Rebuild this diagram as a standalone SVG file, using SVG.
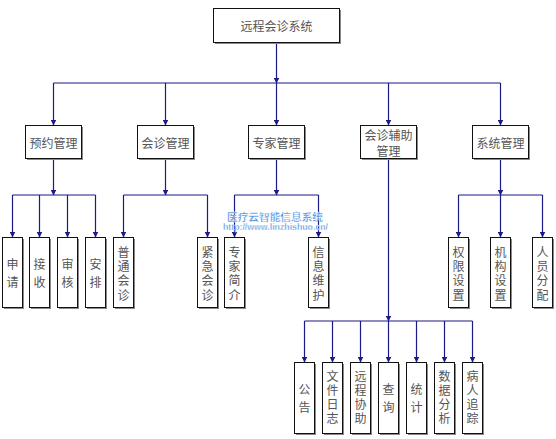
<svg xmlns="http://www.w3.org/2000/svg" width="556" height="439" viewBox="0 0 556 439">
<defs>
<marker id="arr" markerUnits="userSpaceOnUse" markerWidth="6" markerHeight="6" refX="5.5" refY="3" orient="auto">
<path d="M0,0 L6,3 L0,6 z" fill="#1a1a88"/>
</marker>
</defs>
<style>
.box{fill:#fff;stroke:#111;stroke-width:1}
.sh{fill:#8a8a8a}
.t{font-family:"Noto Sans CJK SC","Liberation Sans",sans-serif;font-size:12px;fill:#555;text-anchor:middle;dominant-baseline:central}
.c{fill:none;stroke:#1a1a88;stroke-width:1.2}
.a{marker-end:url(#arr)}
.wm{font-family:"Liberation Sans","Noto Sans CJK SC",sans-serif;font-weight:bold;fill:#4a90e2;text-anchor:middle;stroke:#fff;stroke-width:0.3}
</style>
<rect width="556" height="439" fill="#fff"/>

<g id="connectors">
<path class="c a" d="M276.5,42 V83"/>
<path class="c" d="M53.5,83 H500.5"/>
<path class="c a" d="M53.5,83 V125"/>
<path class="c a" d="M165.5,83 V125"/>
<path class="c a" d="M276.5,83 V125"/>
<path class="c a" d="M388.5,83 V125"/>
<path class="c a" d="M500.5,83 V125"/>
<path class="c a" d="M53.5,158 V195"/>
<path class="c" d="M12.5,195 H95.5"/>
<path class="c a" d="M12.5,195 V237"/>
<path class="c a" d="M39.5,195 V237"/>
<path class="c a" d="M67.5,195 V237"/>
<path class="c a" d="M95.5,195 V237"/>
<path class="c a" d="M165.5,158 V195"/>
<path class="c" d="M123.5,195 H207.5"/>
<path class="c a" d="M123.5,195 V237"/>
<path class="c a" d="M207.5,195 V237"/>
<path class="c a" d="M276.5,158 V195"/>
<path class="c" d="M234.5,195 H318.5"/>
<path class="c a" d="M234.5,195 V237"/>
<path class="c a" d="M318.5,195 V237"/>
<path class="c a" d="M500.5,158 V195"/>
<path class="c" d="M458.5,195 H542.5"/>
<path class="c a" d="M458.5,195 V237"/>
<path class="c a" d="M500.5,195 V237"/>
<path class="c a" d="M542.5,195 V237"/>
<path class="c a" d="M388.5,158 V321"/>
<path class="c" d="M304.5,321 H472.5"/>
<path class="c a" d="M304.5,321 V362"/>
<path class="c a" d="M332.5,321 V362"/>
<path class="c a" d="M360.5,321 V362"/>
<path class="c a" d="M388.5,321 V362"/>
<path class="c a" d="M416.5,321 V362"/>
<path class="c a" d="M444.5,321 V362"/>
<path class="c a" d="M472.5,321 V362"/>
</g>

<g id="root">
<rect class="sh" x="215" y="10" width="126" height="34"/>
<rect class="box" x="213.5" y="8.5" width="126" height="34"/>
<text class="t" x="276.5" y="25.5">远程会诊系统</text>
</g>

<g id="n-yuyue">
<rect class="sh" x="27" y="127" width="56" height="33"/>
<rect class="box" x="25.5" y="125.5" width="56" height="33"/>
<text class="t" x="53.5" y="142">预约管理</text>
</g>
<g id="n-huizhen">
<rect class="sh" x="139" y="127" width="56" height="33"/>
<rect class="box" x="137.5" y="125.5" width="56" height="33"/>
<text class="t" x="165.5" y="142">会诊管理</text>
</g>
<g id="n-zhuanjia">
<rect class="sh" x="250" y="127" width="56" height="33"/>
<rect class="box" x="248.5" y="125.5" width="56" height="33"/>
<text class="t" x="276.5" y="142">专家管理</text>
</g>
<g id="n-fuzhu">
<rect class="sh" x="362" y="127" width="56" height="33"/>
<rect class="box" x="360.5" y="125.5" width="56" height="33"/>
<text class="t" x="388.5" y="134">会诊辅助</text>
<text class="t" x="388.5" y="150">管理</text>
</g>
<g id="n-xitong">
<rect class="sh" x="474" y="127" width="56" height="33"/>
<rect class="box" x="472.5" y="125.5" width="56" height="33"/>
<text class="t" x="500.5" y="142">系统管理</text>
</g>

<g id="n-shenqing">
<rect class="sh" x="4" y="239" width="20" height="70"/>
<rect class="box" x="2.5" y="237.5" width="20" height="70"/>
<text class="t" x="12.5" y="263">申</text><text class="t" x="12.5" y="281">请</text>
</g>
<g id="n-jieshou">
<rect class="sh" x="31" y="239" width="20" height="70"/>
<rect class="box" x="29.5" y="237.5" width="20" height="70"/>
<text class="t" x="39.5" y="263">接</text><text class="t" x="39.5" y="281">收</text>
</g>
<g id="n-shenhe">
<rect class="sh" x="59" y="239" width="20" height="70"/>
<rect class="box" x="57.5" y="237.5" width="20" height="70"/>
<text class="t" x="67.5" y="263">审</text><text class="t" x="67.5" y="281">核</text>
</g>
<g id="n-anpai">
<rect class="sh" x="87" y="239" width="20" height="70"/>
<rect class="box" x="85.5" y="237.5" width="20" height="70"/>
<text class="t" x="95.5" y="263">安</text><text class="t" x="95.5" y="281">排</text>
</g>
<g id="n-putong">
<rect class="sh" x="115" y="239" width="20" height="70"/>
<rect class="box" x="113.5" y="237.5" width="20" height="70"/>
<text class="t" x="123.5" y="251">普</text><text class="t" x="123.5" y="265.3">通</text><text class="t" x="123.5" y="279.6">会</text><text class="t" x="123.5" y="294">诊</text>
</g>
<g id="n-jinji">
<rect class="sh" x="199" y="239" width="20" height="70"/>
<rect class="box" x="197.5" y="237.5" width="20" height="70"/>
<text class="t" x="207.5" y="251">紧</text><text class="t" x="207.5" y="265.3">急</text><text class="t" x="207.5" y="279.6">会</text><text class="t" x="207.5" y="294">诊</text>
</g>
<g id="n-jianjie">
<rect class="sh" x="226" y="239" width="20" height="70"/>
<rect class="box" x="224.5" y="237.5" width="20" height="70"/>
<text class="t" x="234.5" y="251">专</text><text class="t" x="234.5" y="265.3">家</text><text class="t" x="234.5" y="279.6">简</text><text class="t" x="234.5" y="294">介</text>
</g>
<g id="n-weihu">
<rect class="sh" x="310" y="239" width="20" height="70"/>
<rect class="box" x="308.5" y="237.5" width="20" height="70"/>
<text class="t" x="318.5" y="251">信</text><text class="t" x="318.5" y="265.3">息</text><text class="t" x="318.5" y="279.6">维</text><text class="t" x="318.5" y="294">护</text>
</g>
<g id="n-quanxian">
<rect class="sh" x="450" y="239" width="20" height="70"/>
<rect class="box" x="448.5" y="237.5" width="20" height="70"/>
<text class="t" x="458.5" y="251">权</text><text class="t" x="458.5" y="265.3">限</text><text class="t" x="458.5" y="279.6">设</text><text class="t" x="458.5" y="294">置</text>
</g>
<g id="n-jigou">
<rect class="sh" x="492" y="239" width="20" height="70"/>
<rect class="box" x="490.5" y="237.5" width="20" height="70"/>
<text class="t" x="500.5" y="251">机</text><text class="t" x="500.5" y="265.3">构</text><text class="t" x="500.5" y="279.6">设</text><text class="t" x="500.5" y="294">置</text>
</g>
<g id="n-renyuan">
<rect class="sh" x="534" y="239" width="20" height="70"/>
<rect class="box" x="532.5" y="237.5" width="20" height="70"/>
<text class="t" x="542.5" y="251">人</text><text class="t" x="542.5" y="265.3">员</text><text class="t" x="542.5" y="279.6">分</text><text class="t" x="542.5" y="294">配</text>
</g>

<g id="n-gonggao">
<rect class="sh" x="296" y="364" width="20" height="71"/>
<rect class="box" x="294.5" y="362.5" width="20" height="71"/>
<text class="t" x="304.5" y="388.5">公</text><text class="t" x="304.5" y="406.5">告</text>
</g>
<g id="n-rizhi">
<rect class="sh" x="324" y="364" width="20" height="71"/>
<rect class="box" x="322.5" y="362.5" width="20" height="71"/>
<text class="t" x="332.5" y="375">文</text><text class="t" x="332.5" y="389">件</text><text class="t" x="332.5" y="403">日</text><text class="t" x="332.5" y="417">志</text>
</g>
<g id="n-xiezhu">
<rect class="sh" x="352" y="364" width="20" height="71"/>
<rect class="box" x="350.5" y="362.5" width="20" height="71"/>
<text class="t" x="360.5" y="375">远</text><text class="t" x="360.5" y="389">程</text><text class="t" x="360.5" y="403">协</text><text class="t" x="360.5" y="417">助</text>
</g>
<g id="n-chaxun">
<rect class="sh" x="380" y="364" width="20" height="71"/>
<rect class="box" x="378.5" y="362.5" width="20" height="71"/>
<text class="t" x="388.5" y="388.5">查</text><text class="t" x="388.5" y="406.5">询</text>
</g>
<g id="n-tongji">
<rect class="sh" x="408" y="364" width="20" height="71"/>
<rect class="box" x="406.5" y="362.5" width="20" height="71"/>
<text class="t" x="416.5" y="388.5">统</text><text class="t" x="416.5" y="406.5">计</text>
</g>
<g id="n-fenxi">
<rect class="sh" x="436" y="364" width="20" height="71"/>
<rect class="box" x="434.5" y="362.5" width="20" height="71"/>
<text class="t" x="444.5" y="375">数</text><text class="t" x="444.5" y="389">据</text><text class="t" x="444.5" y="403">分</text><text class="t" x="444.5" y="417">析</text>
</g>
<g id="n-zhuizong">
<rect class="sh" x="464" y="364" width="20" height="71"/>
<rect class="box" x="462.5" y="362.5" width="20" height="71"/>
<text class="t" x="472.5" y="375">病</text><text class="t" x="472.5" y="389">人</text><text class="t" x="472.5" y="403">追</text><text class="t" x="472.5" y="417">踪</text>
</g>

<g id="watermark">
<text class="wm" x="275" y="220.5" font-size="10.5" textLength="96" lengthAdjust="spacingAndGlyphs">医疗云智能信息系统</text>
<text class="wm" x="275.5" y="230" font-size="8.5" textLength="105" lengthAdjust="spacingAndGlyphs">http://www.linzhishuo.cn/</text>
</g>
</svg>
